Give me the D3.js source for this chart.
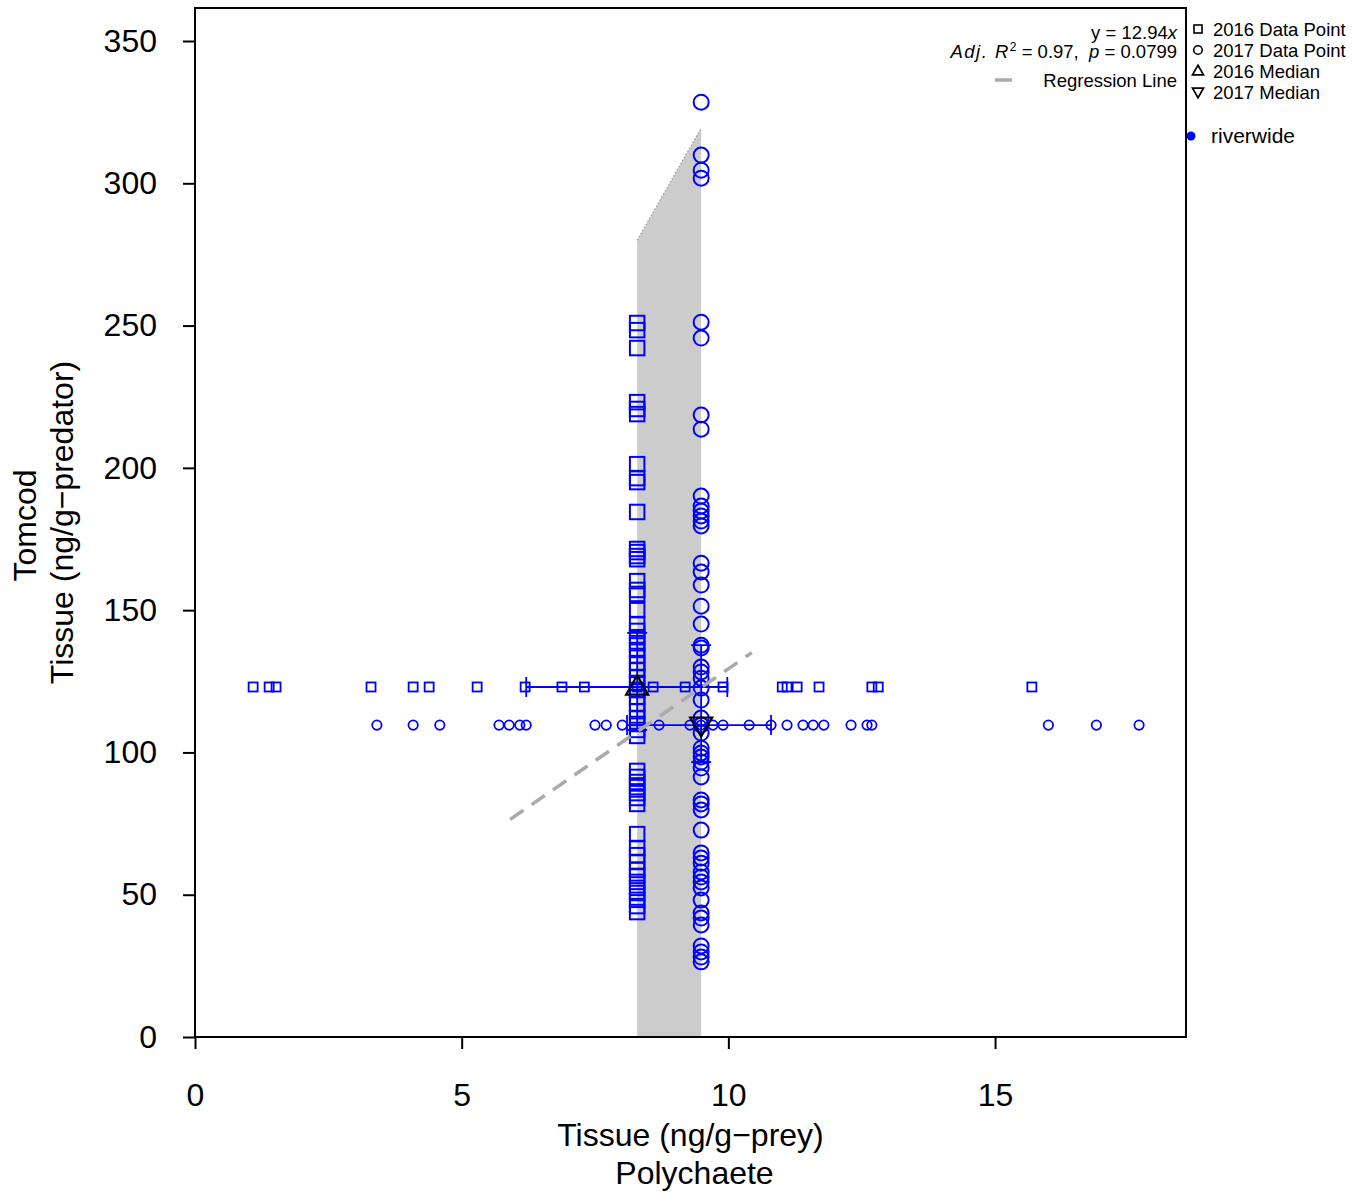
<!DOCTYPE html>
<html>
<head>
<meta charset="utf-8">
<script src="https://cdn.jsdelivr.net/npm/d3@7"></script>
<style>
  body { margin: 0; background: #fff; }
  svg { display: block; font-family: "Liberation Sans", Arial, Helvetica, sans-serif; }
</style>
</head>
<body>
<svg id="chart" width="1364" height="1192"></svg>
<script>
// ---------- DATA ----------
const xTicks = [0, 5, 10, 15];
const yTicks = [0, 50, 100, 150, 200, 250, 300, 350];

// medians
const prey2016Median = 8.29;
const prey2017Median = 9.49;
const pred2016Median = 123.0;
const pred2017Median = 109.6;

// tomcod (predator) tissue values, plotted at the prey median
const predator2016 = [250.9, 248.4, 242.1, 223.1, 220.7, 218.9, 201.3, 196.4, 195.0, 184.5,
  171.5, 170.4, 169.0, 167.9, 160.2, 157.1, 155.7, 150.0, 145.1, 142.7, 140.5, 138.4, 136.0,
  133.9, 131.4, 129.0, 126.5, 124.4, 121.9, 119.5, 117.0, 114.5, 112.1, 110.0, 107.9, 105.8,
  93.5, 91.4, 89.6, 87.8, 85.7, 84.0, 81.9, 71.3, 66.4, 63.9, 61.5, 58.7, 56.6, 54.5, 52.4,
  50.6, 48.2, 46.0, 43.9];
const predator2017 = [328.5, 309.9, 304.6, 301.8, 251.2, 245.6, 218.6, 213.6, 190.1, 186.6,
  184.8, 183.1, 181.3, 179.6, 166.5, 163.4, 158.8, 151.4, 145.1, 137.7, 136.7, 130.0, 128.3,
  126.1, 122.6, 118.4, 112.1, 109.6, 106.8, 101.5, 99.8, 98.4, 96.6, 94.5, 91.4, 83.3, 81.9,
  79.8, 72.7, 64.7, 62.9, 61.1, 58.0, 56.2, 54.5, 52.4, 48.1, 43.6, 41.8, 39.4, 32.0, 29.9,
  28.1, 26.4];

// polychaete (prey) tissue values, plotted at the predator median
const prey2016 = [1.09, 1.39, 1.52, 3.30, 4.09, 4.39, 5.29, 6.19, 6.88, 7.30, 8.29, 8.59, 9.19,
  9.90, 11.01, 11.10, 11.29, 11.70, 12.69, 12.81, 15.69];
const prey2017 = [3.41, 4.09, 4.59, 5.70, 5.89, 6.09, 6.21, 7.50, 7.71, 8.01, 8.70, 9.28, 9.49,
  9.71, 9.90, 10.39, 10.80, 11.10, 11.40, 11.59, 11.79, 12.30, 12.60, 12.69, 16.00, 16.90, 17.70];

// interquartile error bars
const pred2016IQR = [107.9, 142.0];
const pred2017IQR = [96.6, 137.7];
const prey2016IQR = [6.21, 9.98];
const prey2017IQR = [8.10, 10.80];

// shaded band
const bandX = [8.29, 9.49];
const bandTop = [280.0, 319.4];

// regression
const slope = 12.94;
const regXRange = [5.91, 10.44];

const legendLabels = ["2016 Data Point", "2017 Data Point", "2016 Median", "2017 Median"];
const groupLabels = ["riverwide"];

// ---------- LAYOUT ----------
const svg = d3.select("#chart");
const L = 195, R = 1186, T = 8, B = 1037;
const x = d3.scaleLinear().domain([0, 18.58]).range([L, R]);
const y = d3.scaleLinear().domain([0, 361.6]).range([B, T]);
const blue = "#0000FF";

// band
const bandPts = [[bandX[0], 0], [bandX[0], bandTop[0]], [bandX[1], bandTop[1]], [bandX[1], 0]];
svg.append("path")
  .attr("d", d3.line().x(d => x(d[0])).y(d => y(d[1]))(bandPts) + "Z")
  .attr("fill", "#cccccc").attr("stroke", "none");
svg.append("line")
  .attr("x1", x(bandX[0])).attr("y1", y(bandTop[0]))
  .attr("x2", x(bandX[1])).attr("y2", y(bandTop[1]))
  .attr("stroke", "#999").attr("stroke-width", 1.2).attr("stroke-dasharray", "1.5,2");

// big squares (2016 predator)
const bigS = 14.5;
svg.append("g").selectAll("rect").data(predator2016).join("rect")
  .attr("x", x(prey2016Median) - bigS / 2).attr("y", d => y(d) - bigS / 2)
  .attr("width", bigS).attr("height", bigS)
  .attr("fill", "none").attr("stroke", blue).attr("stroke-width", 2);

// big circles (2017 predator)
svg.append("g").selectAll("circle").data(predator2017).join("circle")
  .attr("cx", x(prey2017Median)).attr("cy", d => y(d)).attr("r", 7.5)
  .attr("fill", "none").attr("stroke", blue).attr("stroke-width", 2);

// small squares (2016 prey)
const smS = 9;
svg.append("g").selectAll("rect").data(prey2016).join("rect")
  .attr("x", d => x(d) - smS / 2).attr("y", y(pred2016Median) - smS / 2)
  .attr("width", smS).attr("height", smS)
  .attr("fill", "none").attr("stroke", blue).attr("stroke-width", 1.8);

// small circles (2017 prey)
svg.append("g").selectAll("circle").data(prey2017).join("circle")
  .attr("cx", d => x(d)).attr("cy", y(pred2017Median)).attr("r", 4.7)
  .attr("fill", "none").attr("stroke", blue).attr("stroke-width", 1.8);

// error bars
function hBar(rng, yv) {
  const g = svg.append("g").attr("stroke", blue).attr("stroke-width", 1.8);
  g.append("line").attr("x1", x(rng[0])).attr("x2", x(rng[1])).attr("y1", y(yv)).attr("y2", y(yv));
  rng.forEach(v => g.append("line").attr("x1", x(v)).attr("x2", x(v))
    .attr("y1", y(yv) - 10).attr("y2", y(yv) + 10));
}
function vBar(rng, xv) {
  const g = svg.append("g").attr("stroke", blue).attr("stroke-width", 1.8);
  g.append("line").attr("y1", y(rng[0])).attr("y2", y(rng[1])).attr("x1", x(xv)).attr("x2", x(xv));
  rng.forEach(v => g.append("line").attr("y1", y(v)).attr("y2", y(v))
    .attr("x1", x(xv) - 10).attr("x2", x(xv) + 10));
}
hBar(prey2016IQR, pred2016Median);
hBar(prey2017IQR, pred2017Median);
vBar(pred2016IQR, prey2016Median);
vBar(pred2017IQR, prey2017Median);

// medians
function tri(cx, cy, s, up) {
  const h = s * 0.866;
  return up
    ? `M${cx},${cy - h * 0.6}L${cx + s / 2},${cy + h * 0.4}L${cx - s / 2},${cy + h * 0.4}Z`
    : `M${cx},${cy + h * 0.6}L${cx + s / 2},${cy - h * 0.4}L${cx - s / 2},${cy - h * 0.4}Z`;
}
svg.append("path").attr("d", tri(x(prey2016Median), y(pred2016Median), 22, true))
  .attr("fill", "none").attr("stroke", "#000").attr("stroke-width", 2.2);
svg.append("path").attr("d", tri(x(prey2017Median), y(pred2017Median), 22, false))
  .attr("fill", "none").attr("stroke", "#000").attr("stroke-width", 2.2);

// regression line
svg.append("line")
  .attr("x1", x(regXRange[0])).attr("y1", y(slope * regXRange[0]))
  .attr("x2", x(regXRange[1])).attr("y2", y(slope * regXRange[1]))
  .attr("stroke", "#aaaaaa").attr("stroke-width", 3.5).attr("stroke-dasharray", "16,10");

// box
svg.append("rect").attr("x", L).attr("y", T).attr("width", R - L).attr("height", B - T)
  .attr("fill", "none").attr("stroke", "#000").attr("stroke-width", 2);

// axes
const xAxis = svg.append("g").attr("transform", `translate(0,${B})`)
  .call(d3.axisBottom(x).tickValues(xTicks).tickSize(12).tickPadding(34).tickFormat(d3.format("d")));
const yAxis = svg.append("g").attr("transform", `translate(${L},0)`)
  .call(d3.axisLeft(y).tickValues(yTicks).tickSize(12).tickPadding(26).tickFormat(d3.format("d")));
[xAxis, yAxis].forEach(a => {
  a.select(".domain").remove();
  a.selectAll("line").attr("stroke", "#000").attr("stroke-width", 2);
  a.selectAll("text").attr("font-size", 32).attr("fill", "#000")
    .attr("font-family", "'Liberation Sans', Arial, sans-serif");
});

// axis titles
svg.append("text").attr("x", (L + R) / 2).attr("y", 1146).attr("text-anchor", "middle")
  .attr("font-size", 32).text("Tissue (ng/g\u2212prey)");
svg.append("text").attr("x", (L + R) / 2 + 4).attr("y", 1184).attr("text-anchor", "middle")
  .attr("font-size", 32).text("Polychaete");
svg.append("text").attr("transform", `translate(36,${(T + B) / 2 + 3}) rotate(-90)`)
  .attr("text-anchor", "middle").attr("font-size", 32).text("Tomcod");
svg.append("text").attr("transform", `translate(73,${(T + B) / 2}) rotate(-90)`)
  .attr("text-anchor", "middle").attr("font-size", 32).text("Tissue (ng/g\u2212predator)");

// regression annotation
const eq1 = svg.append("text").attr("x", 1177).attr("y", 39).attr("text-anchor", "end").attr("font-size", 18.5);
eq1.append("tspan").text("y = 12.94");
eq1.append("tspan").attr("font-style", "italic").text("x");
const eq2 = svg.append("text").attr("x", 1177).attr("y", 58).attr("text-anchor", "end").attr("font-size", 18.5);
eq2.append("tspan").attr("font-style", "italic").attr("letter-spacing", 1.5).text("Adj.\u00A0R");
eq2.append("tspan").attr("font-size", 12).attr("dy", -7).text("2");
eq2.append("tspan").attr("dy", 7).text("\u00A0=\u00A00.97,\u00A0\u00A0");
eq2.append("tspan").attr("font-style", "italic").text("p");
eq2.append("tspan").text("\u00A0=\u00A00.0799");
svg.append("line").attr("x1", 995).attr("x2", 1012).attr("y1", 80).attr("y2", 80)
  .attr("stroke", "#aaaaaa").attr("stroke-width", 3.5);
svg.append("text").attr("x", 1177).attr("y", 87).attr("text-anchor", "end").attr("font-size", 18.5)
  .text("Regression Line");

// legend
const legY = [29, 50, 71, 92];
const lx = 1198;
const lg = svg.append("g");
legendLabels.forEach((t, i) => {
  lg.append("text").attr("x", 1213).attr("y", legY[i] + 6.5).attr("font-size", 18.5).text(t);
});
lg.append("rect").attr("x", lx - 4).attr("y", legY[0] - 4).attr("width", 8).attr("height", 8)
  .attr("fill", "none").attr("stroke", "#000").attr("stroke-width", 1.6);
lg.append("circle").attr("cx", lx).attr("cy", legY[1]).attr("r", 4.3)
  .attr("fill", "none").attr("stroke", "#000").attr("stroke-width", 1.6);
lg.append("path").attr("d", tri(lx, legY[2], 11, true))
  .attr("fill", "none").attr("stroke", "#000").attr("stroke-width", 1.7);
lg.append("path").attr("d", tri(lx, legY[3], 11, false))
  .attr("fill", "none").attr("stroke", "#000").attr("stroke-width", 1.7);
groupLabels.forEach((t, i) => {
  lg.append("circle").attr("cx", 1191).attr("cy", 136 + i * 22).attr("r", 4.5).attr("fill", blue);
  lg.append("text").attr("x", 1211).attr("y", 143 + i * 22).attr("font-size", 21).text(t);
});
</script>
</body>
</html>
